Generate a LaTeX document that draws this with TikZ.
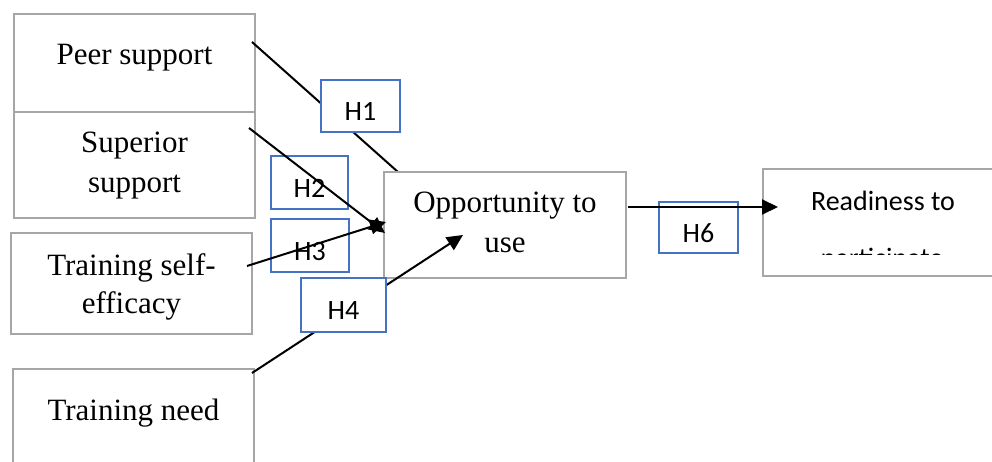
\documentclass[tikz,border=0pt]{standalone}
\usepackage{fontspec}
\setmainfont{Liberation Serif}
\newfontfamily\carlitofont{Carlito}
\usetikzlibrary{arrows.meta}
\definecolor{boxgray}{HTML}{A6A6A6}
\definecolor{hblue}{HTML}{4472C4}
\begin{document}
\begin{tikzpicture}[x=1pt,y=-1pt,
  gbox/.style={draw=boxgray,line width=2.2pt,fill=white,inner sep=0pt,rectangle},
  hbox/.style={draw=hblue,line width=2pt,fill=white,inner sep=0pt,rectangle},
  btxt/.style={anchor=base,inner sep=0pt,font=\fontsize{31}{31}\selectfont},
  htxt/.style={anchor=base,inner sep=0pt,font=\carlitofont\fontsize{28}{28}\selectfont},
  conn/.style={draw=black,line width=2pt},
  arr/.style={conn,-{Triangle[length=16pt,width=15pt]}}]
\clip (0,0) rectangle (992,462);
\fill[white] (0,0) rectangle (992,462);
% left boxes
\node[gbox,minimum width=241pt,minimum height=98pt] (peer) at (134.5,63) {};
\node[gbox,minimum width=241pt,minimum height=106pt] (sup) at (134.5,165) {};
\node[gbox,minimum width=241pt,minimum height=101pt] (self) at (131.5,283.5) {};
\node[gbox,minimum width=241pt,minimum height=131pt] (need) at (133.5,434.5) {};
\node[btxt] (peert) at (134.5,65) {Peer support};
\node[btxt] (supt1) at (134.5,153) {Superior};
\node[btxt] (supt2) at (134.5,193) {support};
\node[btxt] (selft1) at (131.5,275) {Training self-};
\node[btxt] (selft2) at (131.5,313) {efficacy};
\node[btxt] (needt) at (133.5,420) {Training need};
% H1 connector (hidden under boxes)
\coordinate (h1s) at (252,42);
\coordinate (h1e) at (398,172);
\draw[conn] (h1s) -- (h1e);
% opportunity box
\node[gbox,minimum width=242pt,minimum height=106pt] (opp) at (505,225) {};
\node[btxt] (oppt1) at (505,213) {Opportunity to};
\node[btxt] (oppt2) at (505,252) {use};
% H boxes
\node[hbox,minimum width=79pt,minimum height=52pt] (h1) at (360.5,106) {};
\node[htxt] (h1t) at (360.5,121) {H1};
\node[hbox,minimum width=77pt,minimum height=53pt] (h2) at (309.5,182.5) {};
\node[htxt] (h2t) at (309.5,198) {H2};
\node[hbox,minimum width=78pt,minimum height=53pt] (h3) at (310,245.5) {};
\node[htxt] (h3t) at (310,260) {H3};
% H2, H3 connectors
\coordinate (h2s) at (249,128);
\coordinate (h2e) at (385,233);
\coordinate (h3s) at (247,266);
\coordinate (h3e) at (386,222);
\draw[arr] (h2s) -- (h2e);
\draw[arr] (h3s) -- (h3e);
% H4 connector and box
\coordinate (h4s) at (252,373);
\coordinate (h4e) at (463,235);
\draw[arr] (h4s) -- (h4e);
\node[hbox,minimum width=85pt,minimum height=54pt] (h4) at (343.5,305) {};
\node[htxt] (h4t) at (343.5,319) {H4};
% readiness box
\node[gbox,minimum width=247pt,minimum height=107pt] (ready) at (886.5,222.5) {};
\node[htxt] (readyt1) at (883,211) {Readiness to};
\begin{scope}
\clip (765,171) rectangle (1000,254);
\node[htxt] (readyt2) at (882,267) {participate};
\end{scope}
% H6
\node[hbox,minimum width=79pt,minimum height=51pt] (h6) at (698.5,227.5) {};
\node[htxt] (h6t) at (698.5,243) {H6};
\coordinate (h6s) at (628,207);
\coordinate (h6e) at (778,207);
\draw[arr] (h6s) -- (h6e);
\end{tikzpicture}
\end{document}
